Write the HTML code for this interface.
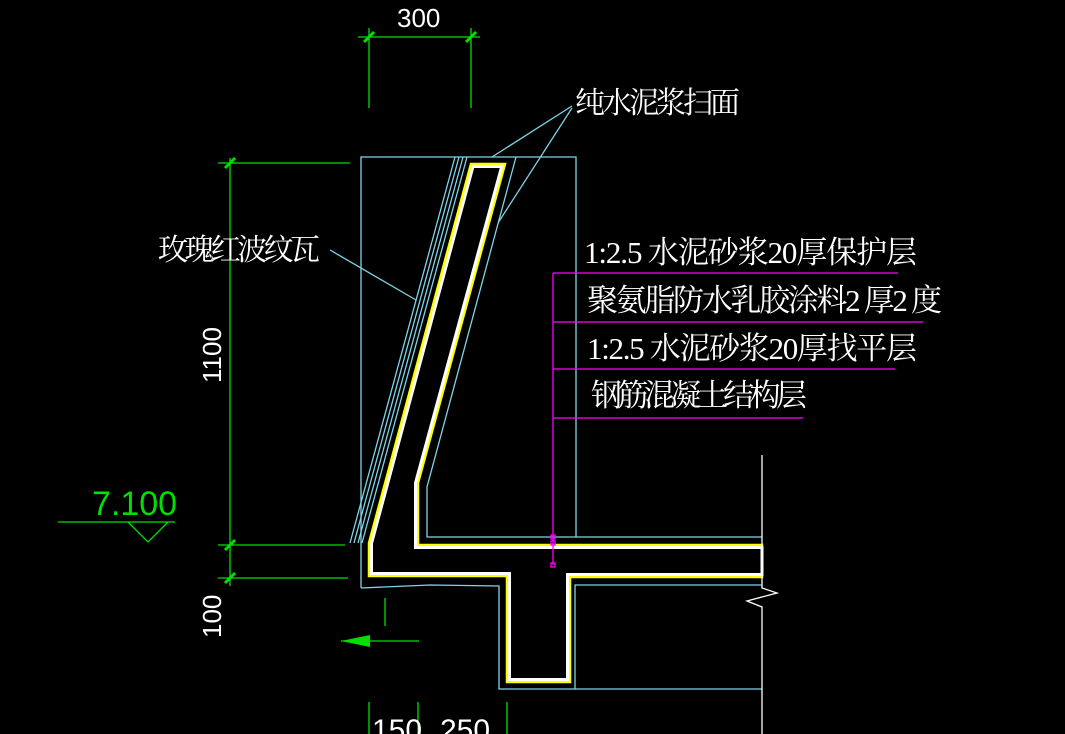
<!DOCTYPE html>
<html><head><meta charset="utf-8"><style>
html,body{margin:0;padding:0;background:#000;width:1065px;height:734px;overflow:hidden}
svg{display:block}
text{font-family:"Liberation Serif","Noto Serif CJK SC",serif;fill:#fff}
</style></head><body>
<svg width="1065" height="734" viewBox="0 0 1065 734" xmlns="http://www.w3.org/2000/svg">
<rect width="1065" height="734" fill="#000"/>
<g stroke="#00e000" stroke-width="1.3" fill="none">
<line x1="369" y1="28" x2="369" y2="108"/><line x1="471" y1="28" x2="471" y2="108"/>
<line x1="358" y1="37" x2="480" y2="37"/>
<line x1="364" y1="42" x2="374" y2="32" stroke-width="3"/><line x1="466" y1="42" x2="476" y2="32" stroke-width="3"/>
<line x1="230" y1="158" x2="230" y2="586"/>
<line x1="218" y1="163" x2="350" y2="163"/>
<line x1="218" y1="545" x2="345" y2="545"/>
<line x1="218" y1="578" x2="348" y2="578"/>
<line x1="225" y1="168" x2="235" y2="158" stroke-width="3"/>
<line x1="225" y1="550" x2="235" y2="540" stroke-width="3"/>
<line x1="225" y1="583" x2="235" y2="573" stroke-width="3"/>
<line x1="58" y1="522" x2="175" y2="522"/>
<polyline points="128,522 148,542 168,522"/>
<line x1="385" y1="598" x2="385" y2="626"/>
<line x1="341" y1="641" x2="419" y2="641"/>
<line x1="369" y1="702" x2="369" y2="734"/><line x1="418" y1="702" x2="418" y2="734"/><line x1="507" y1="702" x2="507" y2="734"/>
</g>
<polygon points="341,641 370,635 370,647" fill="#00e000"/>
<text x="397" y="27" font-size="26" style="font-family:'Liberation Sans',sans-serif">300</text>
<text x="0" y="0" font-size="26" style="font-family:'Liberation Sans',sans-serif" transform="translate(221,383) rotate(-90)">1100</text>
<text x="0" y="0" font-size="26" style="font-family:'Liberation Sans',sans-serif" transform="translate(221,638) rotate(-90)">100</text>
<text x="92" y="515" font-size="34" style="font-family:'Liberation Sans',sans-serif;fill:#00e000">7.100</text>
<text x="372" y="740" font-size="30" style="font-family:'Liberation Sans',sans-serif">150</text>
<text x="440" y="740" font-size="30" style="font-family:'Liberation Sans',sans-serif">250</text>
<g stroke="#7fd4e8" stroke-width="1.3" fill="none">
<polyline points="361,588 361,157 576,157 576,537"/>
<polyline points="516,157 427,487 427,537 762,537"/>
<polyline points="361,588 430,585 499,586 499,689 762,689"/>
<polyline points="762,585 575,585 575,689"/>
<line x1="455" y1="157" x2="350" y2="543"/>
<line x1="459" y1="157" x2="354" y2="543"/>
<line x1="463" y1="157" x2="358" y2="543"/>
<line x1="467" y1="157" x2="362" y2="543"/>
<line x1="492" y1="157" x2="572" y2="106"/>
<line x1="498" y1="223" x2="572" y2="108"/>
<line x1="330" y1="250" x2="416" y2="300"/>
</g>
<polygon points="471,164 505,164 418,483 418,545 762,545 762,577 570,577 570,682 507,682 507,576 369,576 369,543" fill="none" stroke="#ffff00" stroke-width="2.5"/>
<polygon points="473,166.5 501.7,166.5 415.5,483 415.5,547.5 762,547.5 762,574.5 567.5,574.5 567.5,679.5 509.5,679.5 509.5,573.5 371.5,573.5 371.5,543.5" fill="none" stroke="#ffffff" stroke-width="3"/>
<polyline points="762,455 762,588 777,593 747,601 762,607 762,734" fill="none" stroke="#fff" stroke-width="1.3"/>
<g stroke="#ff00ff" stroke-width="1.3" fill="none">
<line x1="553" y1="273" x2="553" y2="565"/>
<line x1="553" y1="273" x2="898" y2="273"/>
<line x1="553" y1="322" x2="923" y2="322"/>
<line x1="553" y1="369" x2="895" y2="369"/>
<line x1="553" y1="418" x2="803" y2="418"/>
<rect x="551" y="535" width="4" height="4"/><rect x="551" y="541" width="4" height="4"/><rect x="551" y="563" width="4" height="4"/>
</g>
<text x="575" y="113" font-size="30" textLength="165">纯水泥浆扫面</text>
<text x="158" y="260" font-size="30" textLength="162">玫瑰红波纹瓦</text>
<text x="584" y="263" font-size="31" textLength="333">1:2.5 水泥砂浆20厚保护层</text>
<text x="587" y="311" font-size="31" textLength="355">聚氨脂防水乳胶涂料2 厚2 度</text>
<text x="587" y="359" font-size="31" textLength="330">1:2.5 水泥砂浆20厚找平层</text>
<text x="591" y="406" font-size="31" textLength="216">钢筋混凝土结构层</text>
</svg>
</body></html>
